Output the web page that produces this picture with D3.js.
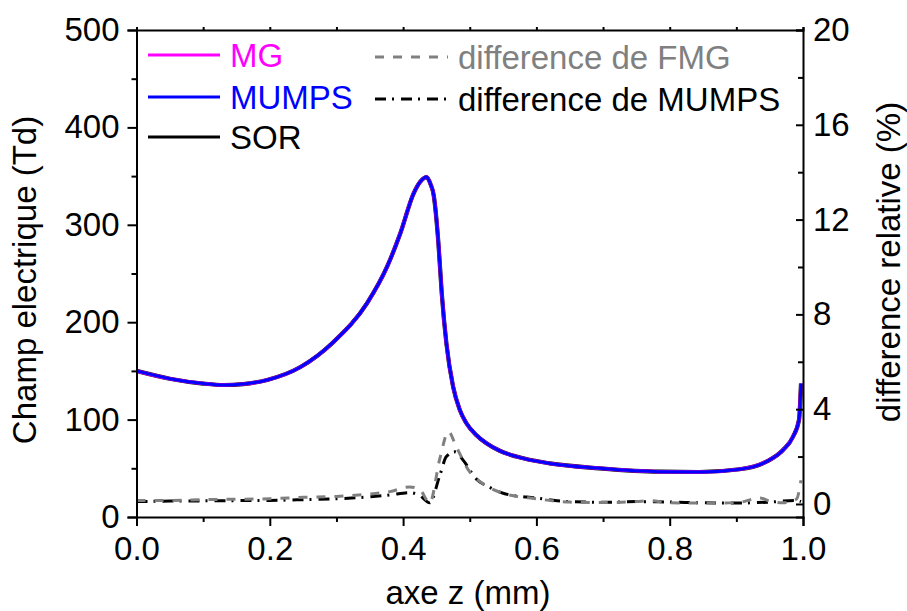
<!DOCTYPE html>
<html>
<head>
<meta charset="utf-8">
<script src="https://cdn.jsdelivr.net/npm/d3@7"></script>
<style>
  html, body { margin: 0; padding: 0; background: #fff; }
  svg { display: block; }
  text { font-family: "Liberation Sans", Arial, sans-serif; }
</style>
</head>
<body>
<svg id="chart" width="907" height="611"></svg>
<script>
// ---- data ----
const zField = [0, 0.05, 0.1, 0.131, 0.16, 0.196, 0.246, 0.296, 0.346, 0.376, 0.396, 0.416, 0.428, 0.435, 0.441, 0.446, 0.453, 0.458, 0.465, 0.475, 0.485, 0.495, 0.51, 0.525, 0.545, 0.57, 0.62, 0.695, 0.785, 0.845, 0.905, 0.945, 0.970, 0.985, 0.994, 0.997];
const fieldSOR   = [150, 142, 137, 135.5, 136.5, 140.7, 154, 180, 219.6, 257, 291.6, 332.6, 346, 349, 342, 330, 281, 229.7, 178, 133.8, 110, 96.2, 84, 75.7, 68, 62, 55, 50, 46.5, 46.2, 49, 56.8, 68.8, 82.4, 99.6, 137];
const fieldMG    = [150, 142, 137, 135.5, 136.5, 140.7, 154, 180, 219.6, 257, 291.6, 332.6, 346, 349, 342, 330, 281, 229.7, 178, 133.8, 110, 96.2, 84, 75.7, 68, 62, 55, 50, 46.5, 46.2, 49, 56.8, 68.8, 82.4, 99.6, 137];
const fieldMUMPS = [150, 142, 137, 135.5, 136.5, 140.7, 154, 180, 219.6, 257, 291.6, 332.6, 346, 349, 342, 330, 281, 229.7, 178, 133.8, 110, 96.2, 84, 75.7, 68, 62, 55, 50, 46.5, 46.2, 49, 56.8, 68.8, 82.4, 99.6, 137];

const zDiffFMG = [0, 0.05, 0.1, 0.15, 0.2, 0.25, 0.3, 0.35, 0.38, 0.41, 0.425, 0.44, 0.455, 0.468, 0.48, 0.50, 0.52, 0.55, 0.60, 0.65, 0.70, 0.75, 0.77, 0.80, 0.85, 0.90, 0.935, 0.95, 0.97, 0.99, 0.997];
const diffFMG  = [0.15, 0.15, 0.18, 0.2, 0.22, 0.28, 0.32, 0.42, 0.52, 0.72, 0.6, 0.05, 1.9, 3.05, 2.4, 1.35, 0.85, 0.45, 0.22, 0.08, 0.06, 0.1, 0.14, 0.05, 0.04, 0.05, 0.25, 0.12, 0.05, 0.2, 1.0];

const zDiffMUMPS = [0, 0.05, 0.1, 0.15, 0.2, 0.25, 0.3, 0.35, 0.38, 0.41, 0.425, 0.44, 0.455, 0.465, 0.478, 0.49, 0.51, 0.53, 0.55, 0.60, 0.65, 0.70, 0.75, 0.80, 0.85, 0.90, 0.95, 0.99, 0.997];
const diffMUMPS  = [0.1, 0.12, 0.13, 0.14, 0.15, 0.18, 0.22, 0.3, 0.38, 0.48, 0.35, 0.05, 1.2, 2.0, 2.2, 1.85, 1.05, 0.7, 0.45, 0.25, 0.1, 0.07, 0.1, 0.08, 0.05, 0.04, 0.08, 0.15, 0.1];

const xTicks = [0, 0.2, 0.4, 0.6, 0.8, 1.0];
const xMinor = [0.1, 0.3, 0.5, 0.7, 0.9];
const yLeftTicks = [0, 100, 200, 300, 400, 500];
const yLeftMinor = [50, 150, 250, 350, 450];
const yRightTicks = [0, 4, 8, 12, 16, 20];
const yRightMinor = [2, 6, 10, 14, 18];

const legendLeft = ["MG", "MUMPS", "SOR"];
const legendRight = ["difference de FMG", "difference de MUMPS"];

// ---- drawing ----
const svg = d3.select("#chart");
const FS = 33;
const x = d3.scaleLinear().domain([0, 1]).range([136.5, 803]);
const yL = d3.scaleLinear().domain([0, 500]).range([517, 30]);
const yR = d3.scaleLinear().domain([-0.55, 20]).range([517, 30]);

function styleAxis(g) {
  g.selectAll(".domain").attr("stroke", "#000").attr("stroke-width", 2);
  g.selectAll(".tick line").attr("stroke", "#000").attr("stroke-width", 2);
  g.selectAll(".tick text").attr("font-size", FS).attr("fill", "#000")
    .attr("font-family", "Liberation Sans, Arial, sans-serif");
}

// curves
const fieldLine = (arr) => d3.line().x((d, i) => x(zField[i])).y(d => yL(d)).curve(d3.curveMonotoneX)(arr);
svg.append("path").attr("d", fieldLine(fieldSOR)).attr("fill", "none").attr("stroke", "#000").attr("stroke-width", 4.2);
svg.append("path").attr("d", fieldLine(fieldMG)).attr("fill", "none").attr("stroke", "#ff00ff").attr("stroke-width", 3.6);
svg.append("path").attr("d", fieldLine(fieldMUMPS)).attr("fill", "none").attr("stroke", "#0000ff").attr("stroke-width", 3);

const diffLineFMG = d3.line().x((d, i) => x(zDiffFMG[i])).y(d => yR(d)).curve(d3.curveMonotoneX);
const diffLineMUMPS = d3.line().x((d, i) => x(zDiffMUMPS[i])).y(d => yR(d)).curve(d3.curveMonotoneX);
svg.append("path").attr("d", diffLineMUMPS(diffMUMPS)).attr("fill", "none").attr("stroke", "#000")
  .attr("stroke-width", 3).attr("stroke-dasharray", "11,6,2,7");
svg.append("path").attr("d", diffLineFMG(diffFMG)).attr("fill", "none").attr("stroke", "#808080")
  .attr("stroke-width", 3).attr("stroke-dasharray", "9,9");

// axes
const gB = svg.append("g").attr("transform", "translate(0,517)")
  .call(d3.axisBottom(x).tickValues(xTicks).tickSize(9).tickPadding(11).tickFormat(d3.format(".1f")));
styleAxis(gB);
const gBm = svg.append("g").attr("transform", "translate(0,517)")
  .call(d3.axisBottom(x).tickValues(xMinor).tickSize(5).tickFormat(""));
styleAxis(gBm); gBm.select(".domain").remove();

const gT = svg.append("g").attr("transform", "translate(0,30)")
  .call(d3.axisTop(x).tickValues(xTicks.concat(xMinor)).tickSize(3).tickFormat(""));
styleAxis(gT);

const gL = svg.append("g").attr("transform", "translate(136.5,0)")
  .call(d3.axisLeft(yL).tickValues(yLeftTicks).tickSize(9).tickPadding(8).tickFormat(d3.format("d")));
styleAxis(gL);
const gLm = svg.append("g").attr("transform", "translate(136.5,0)")
  .call(d3.axisLeft(yL).tickValues(yLeftMinor).tickSize(5).tickFormat(""));
styleAxis(gLm); gLm.select(".domain").remove();

const gR = svg.append("g").attr("transform", "translate(803,0)")
  .call(d3.axisRight(yR).tickValues(yRightTicks).tickSize(-7).tickPadding(10).tickFormat(d3.format("d")));
styleAxis(gR);
const gRm = svg.append("g").attr("transform", "translate(803,0)")
  .call(d3.axisRight(yR).tickValues(yRightMinor).tickSize(-5).tickFormat(""));
styleAxis(gRm); gRm.select(".domain").remove();

// axis titles
svg.append("text").attr("x", 468).attr("y", 604).attr("text-anchor", "middle")
  .attr("font-size", FS).text("axe z (mm)");
svg.append("text").attr("transform", "translate(36,280) rotate(-90)").attr("text-anchor", "middle")
  .attr("font-size", FS).text("Champ electrique (Td)");
svg.append("text").attr("transform", "translate(900,262) rotate(-90)").attr("text-anchor", "middle")
  .attr("font-size", FS).text("difference relative (%)");

// legends
const legColors = ["#ff00ff", "#0000ff", "#000000"];
const legY = [55, 97, 137];
legendLeft.forEach((name, i) => {
  svg.append("line").attr("x1", 148).attr("x2", 220).attr("y1", legY[i]).attr("y2", legY[i])
    .attr("stroke", legColors[i]).attr("stroke-width", 3);
  svg.append("text").attr("x", 230).attr("y", legY[i] + 12).attr("font-size", FS)
    .attr("fill", legColors[i]).text(name);
});
const legRY = [57, 99];
const legRColors = ["#808080", "#000000"];
const legRDash = ["9,9", "11,6,2,7"];
legendRight.forEach((name, i) => {
  svg.append("line").attr("x1", 375).attr("x2", 448).attr("y1", legRY[i]).attr("y2", legRY[i])
    .attr("stroke", legRColors[i]).attr("stroke-width", 3).attr("stroke-dasharray", legRDash[i]);
  svg.append("text").attr("x", 458).attr("y", legRY[i] + 12).attr("font-size", FS)
    .attr("fill", legRColors[i]).text(name);
});
</script>
</body>
</html>
